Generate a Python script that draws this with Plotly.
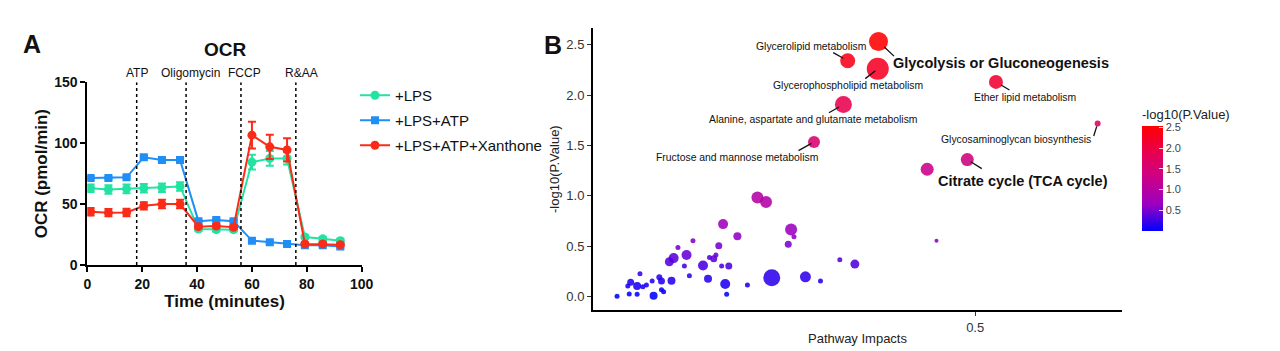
import plotly.graph_objects as go

# ---------------- Panel A data ----------------
time_min = [1.2, 7.7, 14.3, 20.6, 27.2, 33.8, 40.5, 47.0, 53.3, 60.0, 66.5, 72.8, 79.3, 85.8, 92.2]
lps = [63, 62, 62.5, 63, 63.5, 64.5, 29.5, 29, 29, 84.5, 87.5, 87.5, 23, 21.5, 20]
lps_err = [3, 3.5, 3.5, 3.5, 3.5, 3.5, 1.5, 1.5, 1.5, 6, 6, 5, 1.5, 1.5, 1.5]
lps_atp = [71.5, 71.5, 72, 88.5, 86.3, 86.3, 36, 37, 36, 20, 18.6, 17.2, 16.2, 16.2, 15.1]
lps_atp_err = [1, 1, 1, 1, 1, 1, 1, 1, 1, 1, 1, 1, 1, 1, 1]
lps_atp_xan = [43.7, 43, 43.1, 48.6, 50, 50, 31.5, 32, 31, 106.6, 97, 94.5, 17.3, 17.3, 16.7]
lps_atp_xan_err = [3, 3, 3, 3, 3.5, 3.5, 1.5, 1.5, 1.5, 11, 10, 9.5, 1, 1, 1]
injection_times = [18, 36, 56, 76]
injection_labels = ["ATP", "Oligomycin", "FCCP", "R&AA"]
injection_label_x = [18, 37.7, 57.2, 78]

# ---------------- Panel B data ----------------
impact = [0.365, 0.322, 0.364, 0.529, 0.316, 0.671, 0.275, 0.489, 0.433, 0.196,
          0.208, 0.148, 0.168, 0.106, 0.085, 0.142, 0.243, 0.247, 0.239, 0.446,
          0.097, 0.079, 0.073, 0.129, 0.135, 0.138, 0.120, 0.094, 0.146, 0.156,
          0.311, 0.332, 0.032, 0.019, 0.015, 0.028, 0.036, 0.041, 0.049, 0.059,
          0.062, 0.076, 0.101, 0.127, 0.151, 0.182, 0.216, 0.263, 0.284, 0.0,
          0.017, 0.028, 0.051, 0.062, 0.065, 0.153]
neglogp = [2.53, 2.34, 2.26, 2.13, 1.905, 1.717, 1.535, 1.36, 1.264, 0.984,
           0.94, 0.72, 0.60, 0.555, 0.489, 0.505, 0.667, 0.594, 0.52, 0.555,
           0.413, 0.383, 0.347, 0.39, 0.376, 0.413, 0.31, 0.304, 0.304, 0.304,
           0.367, 0.324, 0.228, 0.143, 0.106, 0.106, 0.099, 0.116, 0.155, 0.192,
           0.155, 0.158, 0.208, 0.178, 0.126, 0.116, 0.188, 0.198, 0.155, 0.004,
           0.027, 0.024, 0.01, 0.069, 0.05, 0.024]
bubble = [19, 15, 22, 14, 17, 6, 12, 13, 13, 12,
          12, 10, 8, 5, 5, 7, 12, 5, 7, 4,
          10, 10, 9, 5, 7, 5, 10, 5, 5, 7,
          5, 9, 5, 7, 5, 8, 5, 5, 5, 6,
          7, 8, 5, 8, 10, 5, 17, 11, 5, 5,
          5, 5, 8, 5, 5, 5]
# labelled pathways: index, name, bold
pathway_labels = [
    (0, "Glycolysis or Gluconeogenesis", True),
    (1, "Glycerolipid metabolism", False),
    (2, "Glycerophospholipid metabolism", False),
    (3, "Ether lipid metabolism", False),
    (4, "Alanine, aspartate and glutamate metabolism", False),
    (5, "Glycosaminoglycan biosynthesis", False),
    (6, "Fructose and mannose metabolism", False),
    (7, "Citrate cycle (TCA cycle)", True),
]
# label placement (pixel offsets from point): text dx, dy, segment tail dx, dy, standoff
label_pos = {
    0: (122.4, 21.0, 17, 16, 8),
    1: (-36.9, -14.7, -16, -9, 5),
    2: (-29.3, 16.7, -14, 11, 3),
    3: (28.8, 16.0, 15, 9, 6),
    4: (-29.6, 15.0, -16, 9, 5),
    5: (-81.7, 16.0, -4.4, 14, 3),
    6: (-76.7, 16.0, -17, 9.5, 3),
    7: (56.0, 21.4, 16, 10, 4),
}

W, H = 1280, 351
FONT = "Liberation Sans, Arial, sans-serif"
GREEN, BLUE, RED = "#22e3a1", "#1f8ef5", "#fa2c18"


def px_x(p):
    return p / W


def px_y(p):
    return (H - p) / H


def xd(a, b):
    return [px_x(a), px_x(b)]


def yd(top, bottom):
    return [px_y(bottom), px_y(top)]


fig = go.Figure()

for name, vals, errs, col, sym, size in [
    ("+LPS", lps, lps_err, GREEN, "circle", 9),
    ("+LPS+ATP", lps_atp, lps_atp_err, BLUE, "square", 8),
    ("+LPS+ATP+Xanthone", lps_atp_xan, lps_atp_xan_err, RED, "circle", 9),
]:
    fig.add_trace(go.Scatter(
        x=time_min, y=vals, name=name, mode="lines+markers",
        line=dict(color=col, width=2),
        marker=dict(color=col, symbol=sym, size=size),
        error_y=dict(type="data", array=errs, color=col, thickness=2, width=4),
        xaxis="x", yaxis="y", legendgroup=name, showlegend=True,
    ))

# ggplot-like Lab gradient blue -> red
cscale = [[0.0, "#0000FF"], [0.25, "#9A00C2"], [0.5, "#CA0089"], [0.75, "#E8004F"], [1.0, "#FF0000"]]
cmin, cmax = min(neglogp), max(neglogp)
fig.add_trace(go.Scatter(
    x=impact, y=neglogp, mode="markers", showlegend=False,
    xaxis="x2", yaxis="y2",
    marker=dict(size=bubble, color=neglogp, colorscale=cscale, cmin=cmin, cmax=cmax,
                opacity=0.88, line=dict(width=0),
                colorbar=dict(
                    title=dict(text="-log10(P.Value)", side="top",
                               font=dict(family=FONT, size=13, color="#222")),
                    x=px_x(1142), xanchor="left", y=px_y(106), yanchor="top",
                    lenmode="pixels", len=125, thickness=21, thicknessmode="pixels",
                    xpad=0, ypad=0, outlinewidth=0,
                    tickvals=[0.5, 1.0, 1.5, 2.0, 2.5], ticktext=["0.5", "1.0", "1.5", "2.0", "2.5"],
                    ticks="inside", ticklen=4, tickcolor="rgba(255,255,255,0.8)",
                    tickfont=dict(family=FONT, size=11, color="#444"),
                )),
))

bold_tick = dict(family=FONT, size=14, color="#111", weight="bold")
common = dict(showline=True, linecolor="black", linewidth=2, ticks="outside",
              showgrid=False, zeroline=False, automargin=False)
fig.update_layout(
    width=W, height=H, margin=dict(l=0, r=0, t=0, b=0, pad=0, autoexpand=False),
    plot_bgcolor="white", paper_bgcolor="white",
    font=dict(family=FONT),
    xaxis=dict(domain=xd(87.3, 361.7), range=[0, 100], tickvals=[0, 20, 40, 60, 80, 100],
               ticklen=5, tickwidth=2, tickcolor="black",
               tickfont=bold_tick, anchor="y",
               title=dict(text="Time (minutes)", standoff=4,
                          font=dict(family=FONT, size=17, color="#111", weight="bold")), **common),
    yaxis=dict(domain=yd(82.3, 265), range=[0, 150], tickvals=[0, 50, 100, 150],
               ticklen=5, tickwidth=2, tickcolor="black",
               tickfont=bold_tick, anchor="x",
               title=dict(text="OCR (pmol/min)", standoff=2,
                          font=dict(family=FONT, size=17, color="#111", weight="bold")), **common),
    xaxis2=dict(domain=xd(593, 1122), range=[-0.0336, 0.705], tickvals=[0.5], ticktext=["0.5"],
                ticklen=4, tickwidth=1, tickcolor="#333",
                tickfont=dict(family=FONT, size=13, color="#333"), anchor="y2",
                title=dict(text="Pathway Impacts", standoff=0,
                           font=dict(family=FONT, size=13, color="#222")), **common),
    yaxis2=dict(domain=yd(28.3, 310), range=[-0.1315, 2.6615],
                tickvals=[0, 0.5, 1.0, 1.5, 2.0, 2.5], ticktext=["0.0", "0.5", "1.0", "1.5", "2.0", "2.5"],
                ticklen=4, tickwidth=1, tickcolor="#333",
                tickfont=dict(family=FONT, size=13, color="#333"), anchor="x2",
                title=dict(text="-log10(P.Value)", standoff=4,
                           font=dict(family=FONT, size=13, color="#222")), **common),
    legend=dict(x=px_x(355), y=px_y(79), xanchor="left", yanchor="top",
                font=dict(family=FONT, size=15, color="#111"), tracegroupgap=2.5,
                bgcolor="rgba(0,0,0,0)"),
)

shapes = []
for t in injection_times:
    shapes.append(dict(type="line", xref="x", yref="y", x0=t, x1=t, y0=0, y1=150,
                       line=dict(color="black", width=1.5, dash="dot")))
fig.update_layout(shapes=shapes)

ann = []
for lx, lab in zip(injection_label_x, injection_labels):
    ann.append(dict(xref="x", yref="paper", x=lx, y=px_y(73), text=lab, showarrow=False,
                    font=dict(family=FONT, size=12, color="#111"), xanchor="center", yanchor="middle"))
ann.append(dict(xref="paper", yref="paper", x=px_x(225), y=px_y(49), text="OCR", showarrow=False,
                font=dict(family=FONT, size=19, color="#111", weight="bold"), xanchor="center", yanchor="middle"))
ann.append(dict(xref="paper", yref="paper", x=px_x(32), y=px_y(44), text="A", showarrow=False,
                font=dict(family=FONT, size=25, color="#111", weight="bold"), xanchor="center", yanchor="middle"))
ann.append(dict(xref="paper", yref="paper", x=px_x(553), y=px_y(45), text="B", showarrow=False,
                font=dict(family=FONT, size=25, color="#111", weight="bold"), xanchor="center", yanchor="middle"))

for idx, name, bold in pathway_labels:
    tdx, tdy, sdx, sdy, so = label_pos[idx]
    px, py = impact[idx], neglogp[idx]
    ann.append(dict(xref="x2", yref="y2", x=px, y=py, text="", showarrow=True,
                    ax=sdx, ay=sdy, arrowhead=0, arrowwidth=1.3, arrowcolor="#111", standoff=so))
    ann.append(dict(xref="x2", yref="y2", x=px, y=py, text=name, showarrow=False,
                    xshift=tdx, yshift=-tdy, xanchor="center", yanchor="middle",
                    font=dict(family=FONT, size=14.5 if bold else 10.4, color="#111",
                              weight="bold" if bold else "normal")))
fig.update_layout(annotations=ann)

fig.write_html("out.html")
